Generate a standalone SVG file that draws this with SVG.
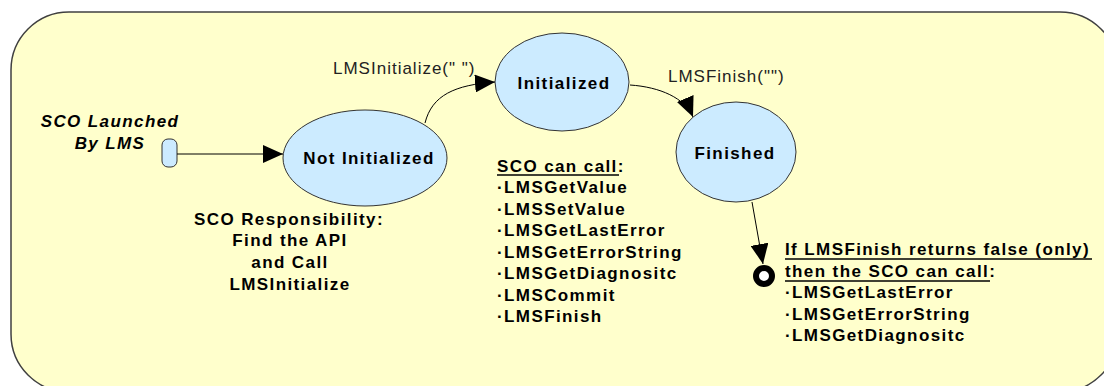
<svg xmlns="http://www.w3.org/2000/svg" width="1104" height="386" viewBox="0 0 1104 386">
<style>
.bg{fill:#FFFFCC;stroke:#404040;stroke-width:1.5}
.st{fill:#CCEBFF;stroke:#333;stroke-width:1}
.b{font-family:"Liberation Sans",Arial,sans-serif;font-weight:bold;font-size:17px;letter-spacing:1.4px;fill:#000}
.bi{font-family:"Liberation Sans",Arial,sans-serif;font-weight:bold;font-style:italic;font-size:17px;letter-spacing:1.4px;fill:#000}
.lbl{font-family:"Liberation Sans",Arial,sans-serif;font-size:17px;letter-spacing:1px;fill:#222}
.c{fill:none;stroke:#000;stroke-width:1}
.u{stroke:#000;stroke-width:1.5}
</style>
<defs>
<marker id="arr" viewBox="0 0 20 18" refX="20" refY="9" markerWidth="20" markerHeight="18" markerUnits="userSpaceOnUse" orient="auto">
<path d="M0,0 L20,9 L0,18 z" fill="#000"/>
</marker>
</defs>
<rect class="bg" x="11" y="12" width="1107" height="380" rx="58" ry="58"/>
<g id="start">
<rect x="162" y="139" width="15" height="28" rx="6" ry="6" class="st"/>
<text class="bi" x="110" y="127" text-anchor="middle">SCO Launched</text>
<text class="bi" x="110" y="149" text-anchor="middle">By LMS</text>
</g>
<g id="not-initialized">
<ellipse class="st" cx="365" cy="158" rx="82" ry="48"/>
<text class="b" x="369" y="164" text-anchor="middle">Not Initialized</text>
</g>
<g id="initialized">
<ellipse class="st" cx="562" cy="82" rx="67" ry="49"/>
<text class="b" x="564" y="89" text-anchor="middle">Initialized</text>
</g>
<g id="finished">
<ellipse class="st" cx="736" cy="152" rx="60" ry="50"/>
<text class="b" x="735" y="159" text-anchor="middle">Finished</text>
</g>
<g id="final">
<circle cx="764" cy="276" r="8" fill="#fff" stroke="#000" stroke-width="6"/>
</g>
<g id="connectors">
<path class="c" d="M177,154 L283,154" marker-end="url(#arr)"/>
<path class="c" d="M425,123 C432,95 455,85 495,82" marker-end="url(#arr)"/>
<path class="c" d="M630,85 C660,87 685,98 693,117" marker-end="url(#arr)"/>
<path class="c" d="M752,202 L763,264" marker-end="url(#arr)"/>
<text class="lbl" x="333" y="74">LMSInitialize(" ")</text>
<text class="lbl" x="668" y="82">LMSFinish("")</text>
</g>
<g id="note-responsibility">
<text class="b" x="289" y="225" text-anchor="middle">SCO Responsibility:</text>
<text class="b" x="290" y="246" text-anchor="middle">Find the API</text>
<text class="b" x="290" y="268" text-anchor="middle">and Call</text>
<text class="b" x="290" y="290" text-anchor="middle">LMSInitialize</text>
</g>
<g id="note-can-call">
<text class="b" x="497" y="172">SCO can call:</text>
<line class="u" x1="497" y1="175" x2="619" y2="175"/>
<text class="b" x="497" y="193">·LMSGetValue</text>
<text class="b" x="497" y="214.5">·LMSSetValue</text>
<text class="b" x="497" y="236">·LMSGetLastError</text>
<text class="b" x="497" y="257.5">·LMSGetErrorString</text>
<text class="b" x="497" y="279">·LMSGetDiagnositc</text>
<text class="b" x="497" y="300.5">·LMSCommit</text>
<text class="b" x="497" y="322">·LMSFinish</text>
</g>
<g id="note-finish-false">
<text class="b" x="785" y="255">If LMSFinish returns false (only)</text>
<line class="u" x1="785" y1="259" x2="1092" y2="259"/>
<text class="b" x="785" y="277">then the SCO can call:</text>
<line class="u" x1="785" y1="281" x2="990" y2="281"/>
<text class="b" x="785" y="298">·LMSGetLastError</text>
<text class="b" x="785" y="320">·LMSGetErrorString</text>
<text class="b" x="785" y="341">·LMSGetDiagnositc</text>
</g>
</svg>
